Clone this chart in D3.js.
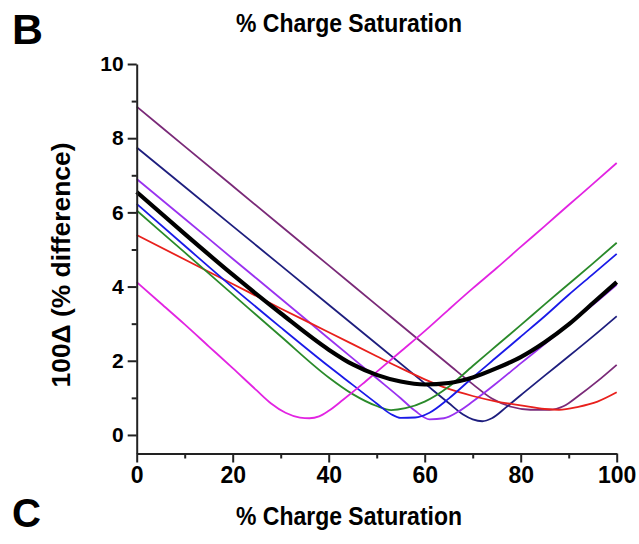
<!DOCTYPE html>
<html><head><meta charset="utf-8">
<script src="https://cdn.jsdelivr.net/npm/d3@7"></script>
<style>body{margin:0;background:#fff}svg{display:block}text{font-family:"Liberation Sans",Arial,sans-serif;font-weight:bold}</style>
</head><body><svg id="c" width="639" height="544"></svg>
<script>
// Data: [% charge saturation, 100Δ]
const plum    = [[0,8.85],[10,7.78],[20,6.71],[30,5.64],[40,4.57],[50,3.5],[60,2.43],[65,1.9],[70,1.37],[74,0.98],[78,0.76],[82,0.68],[86,0.68],[89,0.78],[92,1.05],[96,1.45],[100,1.89]];
const navy    = [[0,7.75],[10,6.69],[20,5.63],[30,4.57],[40,3.51],[50,2.45],[60,1.39],[65,0.86],[68,0.55],[70,0.42],[72,0.37],[74,0.45],[77,0.75],[80,1.07],[85,1.6],[90,2.12],[95,2.65],[100,3.2]];
const violet  = [[0,6.9],[10,5.83],[20,4.75],[30,3.68],[40,2.6],[50,1.53],[55,0.99],[58,0.65],[61,0.42],[64,0.45],[67,0.63],[70,0.9],[75,1.4],[80,1.93],[85,2.45],[90,2.98],[95,3.5],[100,4.05]];
const black   = [[0,6.55],[10,5.42],[20,4.32],[30,3.28],[40,2.3],[45,1.9],[50,1.62],[55,1.44],[60,1.36],[65,1.4],[70,1.55],[75,1.8],[80,2.1],[85,2.5],[90,2.98],[95,3.55],[100,4.12]];
const blue    = [[0,6.23],[10,5.1],[20,3.98],[30,2.9],[40,1.85],[45,1.35],[50,0.85],[53,0.56],[55,0.46],[58,0.47],[61,0.6],[65,0.98],[70,1.55],[75,2.1],[80,2.65],[85,3.2],[90,3.78],[95,4.33],[100,4.88]];
const green   = [[0,6.05],[10,4.92],[20,3.79],[30,2.66],[40,1.55],[45,1.1],[50,0.78],[53,0.67],[56,0.72],[60,0.9],[65,1.3],[70,1.86],[75,2.41],[80,2.96],[85,3.52],[90,4.07],[95,4.62],[100,5.18]];
const red     = [[0,5.39],[10,4.73],[20,4.07],[30,3.41],[40,2.77],[50,2.12],[55,1.8],[60,1.5],[65,1.24],[70,1.05],[75,0.9],[80,0.8],[85,0.7],[88,0.68],[92,0.76],[96,0.9],[100,1.15]];
const magenta = [[0,4.12],[5,3.55],[10,2.98],[15,2.39],[20,1.8],[25,1.2],[28,0.85],[31,0.6],[34,0.47],[36,0.45],[38,0.5],[40,0.65],[43,0.95],[47,1.37],[50,1.7],[55,2.25],[60,2.8],[65,3.38],[70,3.95],[75,4.5],[80,5.07],[85,5.63],[90,6.2],[95,6.76],[100,7.33]];

const seriesNames = ["plum","navy","violet","red","green","blue","magenta","black"];
const seriesData = {plum, navy, violet, black, blue, green, red, magenta};
const seriesColors = {plum:"#7a2a78", navy:"#1e1e7e", violet:"#9a32f0", black:"#000000", blue:"#1a1ae8", green:"#2a8a2a", red:"#e8201c", magenta:"#e224e2"};
const xMajorTicks = [0,20,40,60,80,100];
const xMinorTicks = [10,30,50,70,90];
const yMajorTicks = [0,2,4,6,8,10];
const yMinorTicks = [1,3,5,7,9];
const panelLabelTop = "B", panelLabelBottom = "C";
const titleText = "% Charge Saturation";
const yTitle = "100Δ (% difference)";

const svg = d3.select("#c");
const x = d3.scaleLinear().domain([0,100]).range([136.7,616.7]);
const y = d3.scaleLinear().domain([-0.5,10]).range([453.5,64]);

// lines
const line = d3.line().x(d=>x(d[0])).y(d=>y(d[1])).curve(d3.curveMonotoneX);
svg.append("g").selectAll("path").data(seriesNames).join("path")
  .attr("d", n=>line(seriesData[n]))
  .attr("fill","none")
  .attr("stroke", n=>seriesColors[n])
  .attr("stroke-width", n=> n==="black"?4.2:1.8)
  .attr("stroke-linejoin","round");

// axes
const ax = svg.append("g").attr("transform",`translate(0,${y(-0.5)})`)
  .call(d3.axisBottom(x).tickValues(xMajorTicks).tickSize(9).tickSizeOuter(0).tickPadding(4));
svg.append("g").attr("transform",`translate(0,${y(-0.5)})`)
  .call(d3.axisBottom(x).tickValues(xMinorTicks).tickSize(5).tickSizeOuter(0).tickFormat(""))
  .select(".domain").remove();
const ay = svg.append("g").attr("transform",`translate(${x(0)},0)`)
  .call(d3.axisLeft(y).tickValues(yMajorTicks).tickSize(9).tickSizeOuter(0).tickPadding(4));
svg.append("g").attr("transform",`translate(${x(0)},0)`)
  .call(d3.axisLeft(y).tickValues(yMinorTicks).tickSize(5).tickSizeOuter(0).tickFormat(""))
  .select(".domain").remove();
svg.selectAll(".domain, .tick line").attr("stroke","#222").attr("stroke-width",2);
ax.selectAll(".tick text").attr("font-size",23).attr("font-family","Liberation Sans, Arial, sans-serif").attr("font-weight","bold").attr("fill","#000");
ay.selectAll(".tick text").attr("font-size",21).attr("font-family","Liberation Sans, Arial, sans-serif").attr("font-weight","bold").attr("fill","#000");

// titles
svg.append("text").attr("x",12).attr("y",44).attr("font-size",42).text(panelLabelTop)
  .attr("textLength",31).attr("lengthAdjust","spacingAndGlyphs");
svg.append("text").attr("x",236).attr("y",32).attr("font-size",25).text(titleText)
  .attr("textLength",226).attr("lengthAdjust","spacingAndGlyphs");
svg.append("text").attr("x",12).attr("y",527).attr("font-size",41).text(panelLabelBottom)
  .attr("textLength",29).attr("lengthAdjust","spacingAndGlyphs");
svg.append("text").attr("x",236).attr("y",525).attr("font-size",25).text(titleText)
  .attr("textLength",226).attr("lengthAdjust","spacingAndGlyphs");
svg.append("text").attr("transform","translate(70,265) rotate(-90)").attr("text-anchor","middle")
  .attr("font-size",25).text(yTitle).attr("textLength",245).attr("lengthAdjust","spacingAndGlyphs");
</script></body></html>
